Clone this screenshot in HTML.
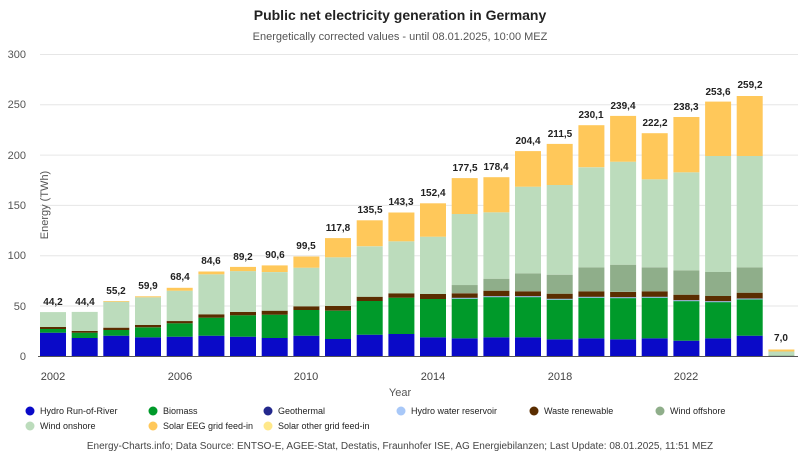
<!DOCTYPE html>
<html><head><meta charset="utf-8"><style>
body{margin:0;background:#fff;width:800px;height:465px;overflow:hidden;font-family:"Liberation Sans",sans-serif}
</style></head><body>
<svg id="s" width="800" height="465" xmlns="http://www.w3.org/2000/svg" font-family="Liberation Sans, sans-serif">
<text x="400" y="20" text-anchor="middle" font-size="14" font-weight="bold" fill="#222">Public net electricity generation in Germany</text>
<text x="400" y="40" text-anchor="middle" font-size="11" fill="#555">Energetically corrected values - until 08.01.2025, 10:00 MEZ</text>
<g stroke="#e6e6e6" stroke-width="1">
<line x1="40" x2="798" y1="54.5" y2="54.5"/><line x1="40" x2="798" y1="104.8" y2="104.8"/><line x1="40" x2="798" y1="155.1" y2="155.1"/>
<line x1="40" x2="798" y1="205.4" y2="205.4"/><line x1="40" x2="798" y1="255.7" y2="255.7"/><line x1="40" x2="798" y1="306" y2="306"/>
</g>
<g font-size="11" fill="#555" text-anchor="end">
<text x="26" y="58">300</text><text x="26" y="108">250</text><text x="26" y="159">200</text><text x="26" y="209">150</text><text x="26" y="259">100</text><text x="26" y="310">50</text><text x="26" y="360">0</text>
</g>
<text transform="translate(48,205) rotate(-90)" text-anchor="middle" font-size="11" fill="#555">Energy (TWh)</text>
<g id="bars"></g>
<line x1="38" x2="798" y1="356.5" y2="356.5" stroke="#555" stroke-width="1"/>
<g font-size="11" fill="#444" text-anchor="middle">
<text x="53" y="380">2002</text><text x="180" y="380">2006</text><text x="306" y="380">2010</text><text x="433" y="380">2014</text><text x="560" y="380">2018</text><text x="686" y="380">2022</text>
<text x="400" y="396" fill="#555">Year</text>
</g>
<g font-size="10" font-weight="bold" fill="#222" text-anchor="middle">
<text x="53" y="305">44,2</text><text x="85" y="305">44,4</text><text x="116" y="294">55,2</text><text x="148" y="289">59,9</text><text x="180" y="280">68,4</text><text x="211" y="264">84,6</text><text x="243" y="260">89,2</text><text x="275" y="258">90,6</text><text x="306" y="249">99,5</text><text x="338" y="231">117,8</text><text x="370" y="213">135,5</text><text x="401" y="205">143,3</text><text x="433" y="196">152,4</text><text x="465" y="171">177,5</text><text x="496" y="170">178,4</text><text x="528" y="144">204,4</text><text x="560" y="137">211,5</text><text x="591" y="118">230,1</text><text x="623" y="109">239,4</text><text x="655" y="126">222,2</text><text x="686" y="110">238,3</text><text x="718" y="95">253,6</text><text x="750" y="88">259,2</text><text x="781" y="341">7,0</text>
</g>
<g font-size="9" fill="#222">
<circle cx="30" cy="411" r="4.5" fill="#0a0ac8"/><text x="40" y="414">Hydro Run-of-River</text>
<circle cx="153" cy="411" r="4.5" fill="#009a2a"/><text x="163" y="414">Biomass</text>
<circle cx="268" cy="411" r="4.5" fill="#23288c"/><text x="278" y="414">Geothermal</text>
<circle cx="401" cy="411" r="4.5" fill="#a8c8f8"/><text x="411" y="414">Hydro water reservoir</text>
<circle cx="534" cy="411" r="4.5" fill="#5a2d00"/><text x="544" y="414">Waste renewable</text>
<circle cx="660" cy="411" r="4.5" fill="#8fae8a"/><text x="670" y="414">Wind offshore</text>
<circle cx="30" cy="426" r="4.5" fill="#bcdcbc"/><text x="40" y="429">Wind onshore</text>
<circle cx="153" cy="426" r="4.5" fill="#ffc85a"/><text x="163" y="429">Solar EEG grid feed-in</text>
<circle cx="268" cy="426" r="4.5" fill="#ffe88a"/><text x="278" y="429">Solar other grid feed-in</text>
</g>
<text x="400" y="449" text-anchor="middle" font-size="10" fill="#444">Energy-Charts.info; Data Source: ENTSO-E, AGEE-Stat, Destatis, Fraunhofer ISE, AG Energiebilanzen; Last Update: 08.01.2025, 11:51 MEZ</text>
</svg>
<script>
var d=[[23.7,27.4,29.4,29.4,44.2,44.2],[18.4,23.7,25.4,25.4,44.4,44.4],[20.7,26.4,28.7,28.7,54.5,55.2],[19.1,29,31.3,31.3,58.9,59.9],[19.7,33,35.3,35.3,65.5,68.4],[20.7,38.6,42,42,81.8,84.6],[19.7,41,44.3,44.3,85,89.2],[18.4,41.6,45.6,45.6,84,90.6],[20.7,46.3,50,50,88.4,99.5],[17.4,45.6,50.3,50.3,98.7,117.8],[21.7,55.2,59.5,59.5,109.7,135.5],[22.4,58.5,62.9,62.9,114.6,143.3],[19.1,57.2,62.2,62.2,119.2,152.4],[18.1,57.9,62.9,71.1,141.8,177.5],[19.1,59.5,65.5,77.4,143.5,178.4],[19.1,59.5,64.9,82.8,169,204.4],[17.1,56.9,62.5,81.4,170.6,211.5],[18.1,58.9,64.9,88.8,188.3,230.1],[17.1,58.5,64.2,91.3,193.8,239.4],[18.1,58.9,64.9,88.8,176.3,222.2],[15.7,55.5,61.5,85.8,183.3,238.3],[18.1,54.5,60.2,84.1,199.5,253.6],[20.7,57.2,63.5,88.8,199.5,259.2],[0.2,0.4,0.5,1,5,7]];
var c=["#0a0ac8","#009a2a","#5a2d00","#8fae8a","#bcdcbc","#ffc85a"];
var g=document.getElementById("bars"),h="";
function Y(v){return 356.5-v*1.005}
d.forEach(function(r,i){var x=40+i*31.67,p=0;
r.forEach(function(v,k){if(v>p){h+='<rect x="'+x.toFixed(1)+'" y="'+Y(v).toFixed(1)+'" width="26" height="'+(Y(p)-Y(v)).toFixed(1)+'" fill="'+c[k]+'"/>';}p=v;});
if(i>=13&&i<23)h+='<rect x="'+x.toFixed(1)+'" y="'+(Y(r[1])-0.5).toFixed(1)+'" width="26" height="1" fill="#a8c8f8"/>';
});
g.innerHTML=h;
</script>
</body></html>
